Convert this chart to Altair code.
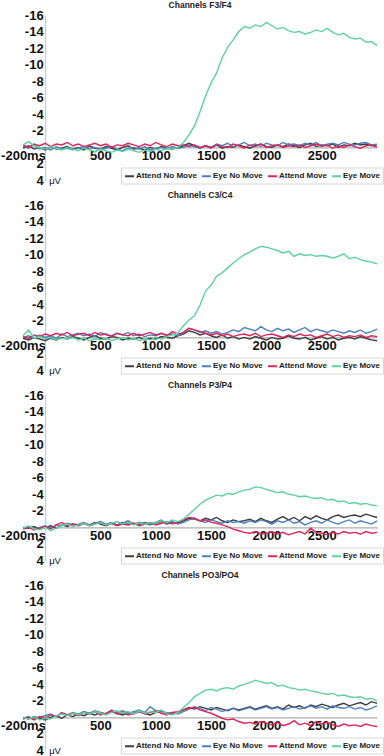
import altair as alt
import pandas as pd

# ---------------- data (µV, negative plotted upward) ----------------
TIME_START = -200   # ms
TIME_STEP = 50      # ms between samples

panels = ["Channels F3/F4", "Channels C3/C4", "Channels P3/P4", "Channels PO3/PO4"]
conditions = ["Attend No Move", "Eye No Move", "Attend Move", "Eye Move"]
colors = ["#3c3c3c", "#4a80c2", "#e0245a", "#5dd1a0"]
x_ticks = [-200, 500, 1000, 1500, 2000, 2500]
y_ticks = [-16, -14, -12, -10, -8, -6, -4, -2, 2, 4]
unit_label = "μV"

# Channels F3/F4
f3_attend_no_move = [0.1, -0.2, 0.2, 0.0, 0.3, -0.1, 0.2, 0.1, -0.1, 0.2,
                     0.0, 0.3, -0.2, 0.1, 0.2, -0.1, 0.1, 0.3, 0.0, -0.2,
                     0.2, 0.1, 0.3, 0.0, 0.2, -0.1, 0.1, 0.2, 0.0, -0.2,
                     -0.5, -0.2, 0.1, -0.2, 0.0, -0.3, 0.1, -0.1, 0.0, -0.3,
                     -0.1, 0.1, -0.2, -0.4, -0.1, 0.0, -0.3, -0.1, -0.4, -0.2,
                     0.0, -0.3, -0.5, -0.1, -0.3, -0.2, -0.4, 0.0, -0.3, -0.2,
                     -0.5, -0.3, -0.4, -0.2, -0.3]
f3_eye_no_move = [-0.2, 0.1, -0.3, 0.2, 0.0, 0.3, -0.1, 0.2, 0.1, 0.3,
                  0.1, -0.1, 0.2, 0.0, 0.3, 0.1, -0.1, 0.2, 0.4, 0.1,
                  0.0, 0.2, -0.1, 0.3, 0.1, 0.0, 0.2, -0.1, 0.1, 0.0,
                  -0.3, -0.1, 0.1, -0.2, 0.0, -0.4, -0.2, -0.5, -0.1, -0.3,
                  -0.6, -0.2, -0.4, -0.1, -0.5, -0.3, -0.2, -0.6, -0.3, -0.4,
                  -0.2, -0.5, -0.3, -0.6, -0.2, -0.4, -0.5, -0.3, -0.6, -0.4,
                  -0.3, -0.5, -0.6, -0.3, -0.4]
f3_attend_move = [-0.3, 0.0, -0.4, -0.2, -0.5, -0.1, -0.4, -0.3, -0.6, -0.2,
                  -0.4, -0.1, -0.3, -0.5, -0.2, -0.4, 0.0, -0.3, -0.2, -0.5,
                  -0.3, -0.1, -0.4, -0.2, -0.6, -0.3, -0.1, -0.4, -0.2, -0.3,
                  -0.1, -0.3, 0.0, -0.2, 0.1, -0.3, -0.1, 0.0, -0.4, -0.2,
                  0.1, -0.3, -0.1, -0.4, 0.0, -0.2, -0.3, 0.0, -0.2, -0.1,
                  -0.3, 0.0, -0.2, -0.4, -0.1, -0.3, 0.1, -0.2, 0.0, -0.3,
                  -0.1, 0.1, -0.2, -0.3, 0.0]
f3_eye_move = [-0.3, -0.7, -0.2, 0.0, 0.2, -0.1, 0.1, 0.3, 0.0, 0.2,
               0.4, 0.1, 0.3, 0.5, 0.2, 0.4, 0.6, 0.3, 0.5, 0.2,
               0.4, 0.6, 0.3, 0.5, 0.2, 0.4, 0.1, 0.2, 0.0, -0.6,
               -1.5, -2.6, -4.3, -6.2, -7.8, -9.0, -10.8, -12.1, -13.0, -14.0,
               -14.6, -14.4, -14.8, -14.6, -15.1, -14.7, -14.3, -14.5, -14.1, -13.9,
               -14.0, -13.7, -13.9, -14.2, -14.0, -14.4, -13.9, -13.6, -13.8, -13.3,
               -13.1, -13.2, -12.7, -12.8, -12.3]

# Channels C3/C4
c3_attend_no_move = [0.1, 0.3, 0.0, 0.2, 0.4, 0.1, 0.3, 0.0, 0.2, -0.1,
                     0.1, 0.3, 0.0, -0.2, 0.1, 0.2, -0.1, 0.0, 0.3, 0.1,
                     0.2, 0.0, 0.3, 0.1, 0.2, -0.1, 0.0, 0.1, -0.2, -0.4,
                     -0.8, -0.6, -0.3, -0.5, -0.2, 0.0, -0.3, 0.1, -0.1, 0.2,
                     0.0, 0.2, -0.1, 0.1, 0.3, 0.0, 0.2, 0.1, -0.2, 0.1,
                     0.2, 0.0, 0.3, 0.1, -0.1, 0.2, 0.0, 0.3, 0.1, 0.0,
                     0.2, -0.1, 0.1, 0.3, 0.4]
c3_eye_no_move = [0.0, -0.2, 0.1, -0.3, 0.0, -0.2, 0.1, -0.4, -0.1, -0.3,
                  -0.5, -0.2, -0.4, -0.1, -0.6, -0.3, -0.2, -0.5, -0.3, -0.6,
                  -0.2, -0.4, -0.1, -0.3, -0.2, -0.5, -0.3, -0.4, -0.2, -0.6,
                  -1.1, -0.9, -0.6, -0.8, -0.5, -0.7, -0.4, -0.6, -0.9, -0.7,
                  -1.2, -1.0, -0.8, -1.3, -0.9, -0.7, -1.1, -0.8, -1.0, -0.6,
                  -0.9, -1.2, -0.7, -1.0, -0.8, -0.6, -0.9, -0.7, -0.5, -0.8,
                  -0.6, -0.9, -0.5, -0.7, -1.0]
c3_attend_move = [-0.1, 0.1, -0.3, -0.1, -0.4, -0.2, -0.5, -0.3, -0.6, -0.2,
                  -0.4, -0.5, -0.2, -0.6, -0.3, -0.4, -0.1, -0.5, -0.3, -0.2,
                  -0.5, -0.2, -0.4, -0.6, -0.3, -0.5, -0.2, -0.7, -0.4, -0.6,
                  -1.1, -0.9, -0.7, -0.5, -0.3, -0.5, -0.2, -0.4, -0.1, -0.3,
                  -0.4, -0.2, -0.5, -0.1, -0.3, -0.4, -0.2, 0.0, -0.3, -0.1,
                  -0.4, -0.2, -0.3, 0.0, -0.2, -0.4, -0.1, -0.3, 0.0, -0.2,
                  -0.1, -0.3, 0.0, -0.2, -0.1]
c3_eye_move = [-0.2, -0.9, 0.1, -0.1, 0.2, 0.0, 0.3, 0.1, 0.2, 0.0,
               0.3, 0.1, 0.4, 0.2, 0.3, 0.1, 0.4, 0.2, 0.0, 0.3,
               0.1, 0.4, 0.2, 0.3, 0.0, 0.2, -0.1, -0.3, -0.5, -1.4,
               -2.1, -2.6, -3.9, -5.6, -6.3, -7.4, -7.8, -8.4, -9.0, -9.5,
               -10.0, -10.3, -10.7, -11.0, -10.9, -10.7, -10.5, -10.2, -10.4, -9.8,
               -10.1, -9.9, -10.0, -9.8, -9.9, -9.8, -9.6, -9.8, -10.1, -9.5,
               -9.7, -9.4, -9.2, -9.1, -8.9]

# Channels P3/P4
p3_attend_no_move = [0.0, 0.1, -0.1, 0.2, 0.0, -0.2, 0.1, -0.3, -0.1, -0.4,
                     -0.2, -0.5, -0.3, -0.6, -0.4, -0.2, -0.5, -0.3, -0.6, -0.4,
                     -0.5, -0.3, -0.6, -0.4, -0.5, -0.7, -0.4, -0.6, -0.5, -0.8,
                     -1.1, -1.0, -0.8, -1.1, -0.9, -1.2, -0.8, -0.6, -0.9, -0.7,
                     -0.8, -1.0, -0.7, -1.1, -0.8, -0.6, -1.0, -1.3, -0.9, -1.2,
                     -0.8, -1.3, -1.0, -1.4, -1.1, -0.9, -1.3, -1.5, -1.2, -1.4,
                     -1.5, -1.3, -1.6, -1.4, -1.2]
p3_eye_no_move = [0.1, -0.1, 0.2, 0.0, -0.2, 0.1, -0.3, -0.2, -0.5, -0.3,
                  -0.4, -0.6, -0.3, -0.5, -0.7, -0.4, -0.6, -0.3, -0.5, -0.8,
                  -0.4, -0.6, -0.5, -0.3, -0.6, -0.9, -0.5, -0.7, -0.4, -0.6,
                  -0.9, -1.1, -0.8, -0.6, -0.9, -0.7, -0.5, -0.8, -0.6, -0.7,
                  -0.5, -0.8, -0.6, -0.9, -0.7, -0.4, -0.8, -0.6, -0.9, -0.5,
                  -0.7, -0.3, -0.6, -0.8, -0.5, -0.9, -0.6, -0.4, -0.7, -0.9,
                  -0.5, -0.8, -0.6, -0.4, -0.8]
p3_attend_move = [0.2, 0.0, 0.3, 0.1, -0.1, 0.2, -0.3, -0.6, -0.2, -0.4,
                  -0.3, -0.5, -0.2, -0.4, -0.6, -0.3, -0.5, -0.2, -0.4, -0.3,
                  -0.5, -0.2, -0.4, -0.6, -0.3, -0.5, -0.7, -0.4, -0.6, -0.9,
                  -1.2, -1.1, -0.8, -0.9, -0.6, -0.5, -0.3, -0.1, 0.2, 0.4,
                  0.6, 0.7, 0.5, 0.8, 0.7, 0.5, 0.8, 0.6, 0.9, 0.7,
                  0.5, 0.8, 0.1, 0.6, 0.7, 0.9, 0.6, 0.8, 0.5, 0.7,
                  0.6, 0.8, 0.5, 0.7, 0.6]
p3_eye_move = [0.1, -0.2, 0.2, 0.3, 0.0, 0.4, 0.1, -0.2, -0.4, -0.1,
               -0.3, -0.5, -0.2, -0.4, -0.6, -0.3, -0.5, -0.7, -0.4, -0.6,
               -0.3, -0.5, -0.4, -0.6, -0.5, -0.8, -0.6, -0.9, -0.7, -1.0,
               -1.6, -2.2, -2.8, -3.3, -3.6, -3.9, -3.8, -4.1, -4.0, -4.3,
               -4.5, -4.6, -4.9, -4.8, -4.6, -4.4, -4.2, -4.3, -4.0, -3.9,
               -3.7, -3.8, -3.6, -3.5, -3.6, -3.3, -3.4, -3.1, -3.2, -2.9,
               -3.0, -2.8, -2.9, -2.7, -2.6]

# Channels PO3/PO4
po3_attend_no_move = [0.0, 0.2, -0.1, 0.1, 0.3, 0.0, -0.2, 0.1, -0.3, -0.1,
                      -0.4, -0.2, -0.5, -0.3, -0.6, -0.4, -0.7, -0.5, -0.3, -0.6,
                      -0.4, -0.7, -0.5, -0.3, -0.6, -0.8, -0.5, -0.4, -0.6, -0.9,
                      -1.2, -1.0, -1.3, -1.1, -0.9, -1.2, -1.0, -0.8, -1.1, -0.9,
                      -1.1, -1.3, -1.0, -1.2, -1.4, -1.1, -1.3, -1.0, -1.5, -1.2,
                      -1.4, -1.1, -1.5, -1.3, -1.6, -1.4, -1.2, -1.5, -1.7, -1.4,
                      -1.6, -1.8, -1.5, -1.9, -1.7]
po3_eye_no_move = [0.1, -0.1, 0.2, 0.0, -0.2, -0.4, -0.1, -0.5, -0.3, -0.6,
                   -0.4, -0.7, -0.5, -0.8, -0.6, -0.4, -0.9, -0.6, -0.8, -0.5,
                   -0.7, -0.9, -0.6, -1.3, -0.8, -0.7, -0.5, -0.6, -0.4, -0.7,
                   -1.0, -1.3, -1.1, -0.8, -1.2, -1.0, -0.7, -0.9, -1.1, -0.8,
                   -1.0, -1.2, -0.9, -1.1, -1.3, -1.0, -1.2, -0.9, -1.1, -1.3,
                   -1.0, -1.2, -1.4, -1.1, -1.3, -1.0, -1.4, -1.2, -1.1, -1.3,
                   -1.0, -1.2, -0.9, -1.1, -1.4]
po3_attend_move = [0.2, 0.0, 0.3, -0.1, 0.1, -0.3, -0.1, -0.6, -0.3, -0.5,
                   -0.2, -0.6, -0.4, -0.7, -0.3, -0.5, -0.8, -0.4, -0.6, -0.3,
                   -0.5, -0.7, -0.4, -0.6, -0.8, -0.5, -0.3, -0.6, -0.7, -0.9,
                   -1.1, -1.2, -0.9, -0.7, -0.5, -0.2, 0.1, 0.3, 0.2, 0.5,
                   0.7, 0.6, 0.8, 0.5, 0.7, 0.9, 0.6, 1.0, 0.8, 0.4,
                   0.9, 0.7, 1.0, 0.5, 0.8, 0.6, 0.9, 1.1, 0.8, 1.0,
                   0.9, 1.1, 0.8, 1.0, 1.1]
po3_eye_move = [0.0, 0.2, -0.1, 0.3, 0.1, 0.2, -0.2, -0.4, -0.2, -0.5,
                -0.3, -0.6, -0.4, -0.7, -0.5, -0.3, -0.6, -0.8, -0.5, -0.7,
                -0.4, -0.8, -0.5, -0.7, -0.6, -0.9, -0.4, -0.3, -0.6, -1.2,
                -1.8, -2.5, -2.9, -3.3, -3.4, -3.2, -3.5, -3.6, -3.4, -3.8,
                -4.0, -4.2, -4.5, -4.3, -4.1, -4.2, -3.8, -3.9, -3.6, -3.5,
                -3.3, -3.4, -3.2, -3.1, -2.9, -2.8, -2.9, -2.6, -2.7, -2.5,
                -2.4, -2.5, -2.2, -2.3, -2.0]

series = {
    panels[0]: [f3_attend_no_move, f3_eye_no_move, f3_attend_move, f3_eye_move],
    panels[1]: [c3_attend_no_move, c3_eye_no_move, c3_attend_move, c3_eye_move],
    panels[2]: [p3_attend_no_move, p3_eye_no_move, p3_attend_move, p3_eye_move],
    panels[3]: [po3_attend_no_move, po3_eye_no_move, po3_attend_move, po3_eye_move],
}

rows = []
for p in panels:
    for ci, cond in enumerate(conditions):
        for i, v in enumerate(series[p][ci]):
            rows.append({"panel": p, "condition": cond, "order": ci,
                         "time": TIME_START + TIME_STEP * i, "value": v})
df = pd.DataFrame(rows)

# ---------------- layout ----------------
W = 354
H = 165.5
X_DOMAIN = [-200, 3000]
Y_DOMAIN = [-16, 4]
FONT = "Liberation Sans"
y_axis_offset = -W * (0 - X_DOMAIN[0]) / (X_DOMAIN[1] - X_DOMAIN[0])
x_axis_offset = -H * (Y_DOMAIN[1] - 0) / (Y_DOMAIN[1] - Y_DOMAIN[0])

X_AXIS = alt.Axis(values=x_ticks, ticks=False, grid=False, title=None,
                  offset=x_axis_offset, domainColor="#9a9a9a",
                  domainWidth=1, labelFont=FONT, labelFontSize=13,
                  labelFontWeight="bold", labelColor="#111",
                  labelPadding=2, labelFlush=False, labelOverlap=False,
                  labelExpr="datum.value == -200 ? '-200ms' : '' + datum.value")
Y_AXIS = alt.Axis(values=y_ticks, ticks=False, grid=False, title=None,
                  offset=y_axis_offset, domainColor="#c4c4c4",
                  domainWidth=1, labelFont=FONT, labelFontSize=13,
                  labelFontWeight="bold", labelColor="#111",
                  labelPadding=2, labelOverlap=False, labelFlush=False,
                  labelExpr="(datum.value < 0 ? '-' : '') + abs(datum.value)")
X_SCALE = alt.Scale(domain=X_DOMAIN, nice=False, zero=False)
Y_SCALE = alt.Scale(domain=Y_DOMAIN, reverse=True, nice=False, zero=False)


def make_panel(name):
    d = df[df.panel == name]
    lines = alt.Chart(d).mark_line(strokeWidth=1.4).encode(
        x=alt.X("time:Q", scale=X_SCALE, axis=X_AXIS),
        y=alt.Y("value:Q", scale=Y_SCALE, axis=Y_AXIS),
        color=alt.Color("condition:N",
                        scale=alt.Scale(domain=conditions, range=colors),
                        legend=alt.Legend(orient="none", legendX=98, legendY=H - 13,
                                          direction="horizontal", title=None,
                                          symbolType="stroke", symbolSize=80,
                                          symbolStrokeWidth=2, labelFont=FONT,
                                          labelFontSize=8, labelFontWeight="bold",
                                          labelColor="#222", labelOffset=1,
                                          columnPadding=1, padding=3,
                                          strokeColor="#d8d8d8", fillColor="white")),
        order=alt.Order("order:Q"),
        detail="condition:N",
    )
    unit = alt.Chart(pd.DataFrame({"t": [0], "v": [4], "u": [unit_label]})).mark_text(
        align="left", baseline="middle", dx=4, font=FONT, fontSize=9.5, color="#111"
    ).encode(
        x=alt.X("t:Q", scale=X_SCALE, axis=X_AXIS),
        y=alt.Y("v:Q", scale=Y_SCALE, axis=Y_AXIS),
        text="u:N",
    )
    return alt.layer(lines, unit).properties(
        width=W, height=H,
        title=alt.TitleParams(name, fontSize=8.5, fontWeight="bold", font=FONT,
                              color="#222", frame="group", anchor="middle", offset=0),
    )


chart = alt.vconcat(*[make_panel(p) for p in panels], spacing=2).resolve_legend(
    color="independent"
).properties(
    padding={"left": 0, "top": 0, "right": 0, "bottom": 0},
    background="white",
).configure_view(stroke=None)

chart.save("out.html", embed_options={"renderer": "svg", "actions": False})
